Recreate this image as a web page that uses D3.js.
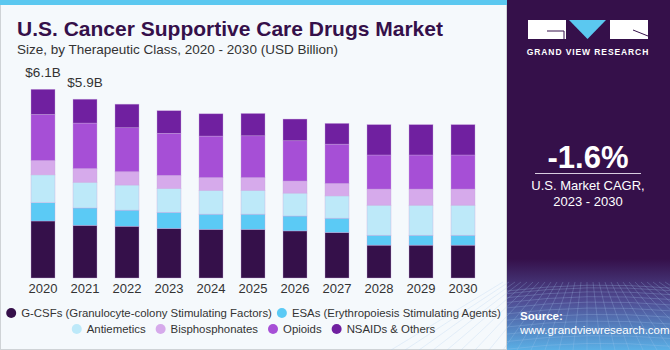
<!DOCTYPE html>
<html>
<head>
<meta charset="utf-8">
<script src="https://cdn.jsdelivr.net/npm/d3@7"></script>
<style>
  html, body { margin: 0; padding: 0; background: #fff; }
  svg { display: block; font-family: "Liberation Sans", Arial, sans-serif; }
</style>
</head>
<body>
<div id="chart"></div>
<script>
// Chart data (USD Billion)
const years = ['2020', '2021', '2022', '2023', '2024', '2025', '2026', '2027', '2028', '2029', '2030'];
const classes = ['G-CSFs (Granulocyte-colony Stimulating Factors)', 'ESAs (Erythropoiesis Stimulating Agents)',
    'Antiemetics', 'Bisphosphonates', 'Opioids', 'NSAIDs & Others'];
const gcsf       = [1.84, 1.70, 1.67, 1.60, 1.57, 1.57, 1.52, 1.47, 1.06, 1.06, 1.06];
const esa        = [0.59, 0.56, 0.52, 0.52, 0.49, 0.49, 0.48, 0.46, 0.32, 0.32, 0.32];
const antiemetic = [0.90, 0.83, 0.81, 0.77, 0.77, 0.77, 0.74, 0.72, 0.97, 0.97, 0.97];
const bisphos    = [0.46, 0.44, 0.43, 0.42, 0.41, 0.41, 0.39, 0.40, 0.52, 0.52, 0.52];
const opioids    = [1.49, 1.47, 1.42, 1.36, 1.34, 1.35, 1.30, 1.27, 1.10, 1.10, 1.10];
const nsaids     = [0.81, 0.77, 0.76, 0.73, 0.72, 0.72, 0.70, 0.67, 0.98, 0.98, 0.98];
const totalLabels = [{ year: '2020', text: '$6.1B', total: 6.1 }, { year: '2021', text: '$5.9B', total: 5.78 }];
const cagr = '-1.6%';

const colors = ['#35104a', '#5bcaf5', '#bde9f9', '#d6aaeb', '#a64fd6', '#7020a0'];

const W = 670, H = 350, panelX = 507;

const svg = d3.select('#chart').append('svg')
    .attr('width', W)
    .attr('height', H);

// background + frame
svg.append('rect').attr('x', 0).attr('y', 0).attr('width', panelX).attr('height', H).attr('fill', '#f5f9fc');
svg.append('rect').attr('x', 0.5).attr('y', 0.5).attr('width', panelX - 1).attr('height', H - 1)
    .attr('fill', 'none').attr('stroke', '#cfd3d6');
svg.append('rect').attr('x', 0).attr('y', 0).attr('width', panelX).attr('height', 5).attr('fill', '#5bc8f0');

// title
svg.append('text').attr('x', 17).attr('y', 36)
    .attr('font-size', 21).attr('font-weight', 'bold').attr('fill', '#35104a')
    .text('U.S. Cancer Supportive Care Drugs Market');
svg.append('text').attr('x', 17).attr('y', 54)
    .attr('font-size', 13.5).attr('fill', '#333')
    .text('Size, by Therapeutic Class, 2020 - 2030 (USD Billion)');

// scales
const x = d3.scaleBand()
    .domain(years)
    .range([22, 484])
    .paddingInner(18 / 42)
    .paddingOuter(9 / 42);

const y = d3.scaleLinear()
    .domain([0, 6.1])
    .range([278, 89]);

const table = years.map((yr, i) => ({
    year: yr, s0: gcsf[i], s1: esa[i], s2: antiemetic[i], s3: bisphos[i], s4: opioids[i], s5: nsaids[i]
}));
const stacked = d3.stack().keys(['s0', 's1', 's2', 's3', 's4', 's5'])(table);

svg.append('g').selectAll('g')
    .data(stacked)
    .join('g')
    .attr('fill', (d, i) => colors[i])
    .selectAll('rect')
    .data(d => d)
    .join('rect')
    .attr('x', d => x(d.data.year))
    .attr('y', d => y(d[1]))
    .attr('width', x.bandwidth())
    .attr('height', d => y(d[0]) - y(d[1]))
    .attr('stroke', '#c9a6e0')
    .attr('stroke-opacity', 0.6)
    .attr('stroke-width', 0.6);

// year axis
const xAxis = svg.append('g')
    .attr('transform', 'translate(0,278)')
    .call(d3.axisBottom(x).tickSize(0).tickPadding(5.5));
xAxis.select('.domain').remove();
xAxis.selectAll('text')
    .attr('font-family', '"Liberation Sans", Arial, sans-serif')
    .attr('font-size', 13)
    .attr('fill', '#333');

// total labels
svg.append('g').selectAll('text')
    .data(totalLabels)
    .join('text')
    .attr('x', d => x(d.year) + x.bandwidth() / 2)
    .attr('y', d => y(d.total) - 12)
    .attr('text-anchor', 'middle')
    .attr('font-size', 13.5)
    .attr('fill', '#333')
    .text(d => d.text);

// legend, two centred rows
const legendRows = [[0, 1], [2, 3, 4, 5]];
const legendY = [317, 333];
const legendGap = [5, 10];
const legend = svg.append('g').attr('font-size', 11.4).attr('fill', '#333');
legendRows.forEach((row, r) => {
    const g = legend.append('g');
    let cx = 0;
    row.forEach(k => {
        g.append('circle').attr('cx', cx + 5).attr('cy', legendY[r] - 4).attr('r', 5).attr('fill', colors[k]);
        const t = g.append('text').attr('x', cx + 15).attr('y', legendY[r]).text(classes[k]);
        cx += 15 + t.node().getComputedTextLength() + legendGap[r];
    });
    const wRow = cx - legendGap[r];
    g.attr('transform', `translate(${(panelX - wRow) / 2},0)`);
});

// right panel
const defs = svg.append('defs');
const grad = defs.append('linearGradient').attr('id', 'pgrad').attr('x1', 0).attr('y1', 0).attr('x2', 0).attr('y2', 1);
grad.append('stop').attr('offset', '0%').attr('stop-color', '#35104a');
grad.append('stop').attr('offset', '74%').attr('stop-color', '#35104a');
grad.append('stop').attr('offset', '86%').attr('stop-color', '#4f4c93');
grad.append('stop').attr('offset', '100%').attr('stop-color', '#5ab0e6');

const panel = svg.append('g').attr('transform', `translate(${panelX},0)`);
panel.append('rect').attr('width', W - panelX).attr('height', H).attr('fill', 'url(#pgrad)');

// faint wire grid at the bottom of the panel
const grid = panel.append('g').attr('stroke', '#a9c8f0').attr('stroke-opacity', 0.35).attr('stroke-width', 0.7).attr('fill', 'none');
d3.range(0, 14).forEach(i => {
    const yy = 285 + Math.pow(i, 1.35) * 2.6;
    grid.append('path').attr('d', `M0,${yy + 6} Q80,${yy - 4} 163,${yy + 3}`);
});
d3.range(-6, 22).forEach(i => {
    const xt = 80 + (i - 8) * 6, xb = 80 + (i - 8) * 14;
    grid.append('line').attr('x1', xt).attr('y1', 282).attr('x2', xb).attr('y2', H);
});

// logo
const logo = panel.append('g');
logo.append('rect').attr('x', 21).attr('y', 20).attr('width', 38).attr('height', 19).attr('fill', '#fff');
logo.append('path').attr('d', 'M40,31 H57 V39').attr('stroke', '#35104a').attr('stroke-width', 1).attr('fill', 'none');
logo.append('path').attr('d', 'M62,20 H99 L80.5,39 Z').attr('fill', '#5bc8f0');
logo.append('rect').attr('x', 103).attr('y', 20).attr('width', 38).attr('height', 19).attr('fill', '#fff');
logo.append('path').attr('d', 'M126,30 L141,36').attr('stroke', '#35104a').attr('stroke-width', 1);
panel.append('text').attr('x', 81).attr('y', 54.5).attr('text-anchor', 'middle')
    .attr('font-size', 8.5).attr('font-weight', 'bold').attr('fill', '#fff').attr('letter-spacing', 0.9)
    .text('GRAND VIEW RESEARCH');

// CAGR
panel.append('text').attr('x', 81).attr('y', 168).attr('text-anchor', 'middle')
    .attr('font-size', 31).attr('font-weight', 'bold').attr('fill', '#fff')
    .text(cagr);
panel.append('line').attr('x1', 28).attr('x2', 134).attr('y1', 173.5).attr('y2', 173.5)
    .attr('stroke', '#d8cde0').attr('stroke-width', 1);
panel.append('text').attr('x', 81).attr('y', 190).attr('text-anchor', 'middle')
    .attr('font-size', 13).attr('fill', '#fff').text('U.S. Market CAGR,');
panel.append('text').attr('x', 81).attr('y', 206).attr('text-anchor', 'middle')
    .attr('font-size', 13).attr('fill', '#fff').text('2023 - 2030');

// source
panel.append('text').attr('x', 13).attr('y', 320)
    .attr('font-size', 11.5).attr('font-weight', 'bold').attr('fill', '#fff').text('Source:');
panel.append('text').attr('x', 13).attr('y', 334)
    .attr('font-size', 11.5).attr('fill', '#fff').text('www.grandviewresearch.com');
</script>
</body>
</html>
